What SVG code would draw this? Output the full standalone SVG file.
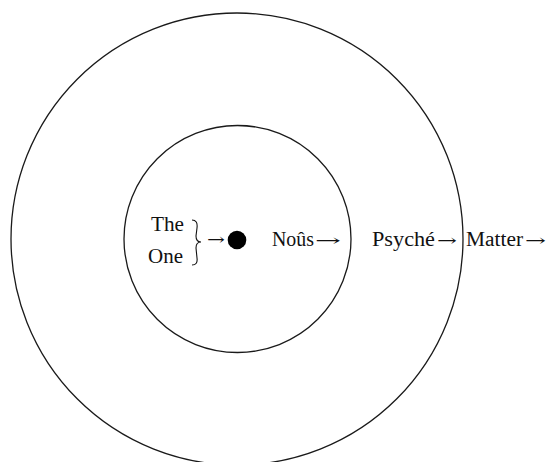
<svg xmlns="http://www.w3.org/2000/svg" width="546" height="462" viewBox="0 0 546 462">
<style>
.ring{fill:none;stroke:#1a1a1a;stroke-width:1.3}
.t{font-family:"Liberation Serif","Times New Roman",serif;font-size:20px;fill:#111}
.ar{font-family:"DejaVu Serif","Liberation Serif",serif;font-size:16px;fill:#111}
</style>
<rect width="546" height="462" fill="#fff"/>
<g id="matter">
<circle class="ring" cx="237" cy="239" r="226"/>
<text class="t" x="466" y="246" textLength="57" lengthAdjust="spacingAndGlyphs">Matter</text>
<text class="ar" x="525" y="246" textLength="21" lengthAdjust="spacingAndGlyphs">→</text>
</g>
<g id="psyche">
<text class="t" x="372" y="246" textLength="63" lengthAdjust="spacingAndGlyphs">Psyché</text>
<text class="ar" x="437" y="246" textLength="20" lengthAdjust="spacingAndGlyphs">→</text>
</g>
<g id="nous">
<circle class="ring" cx="237.5" cy="239" r="113.5"/>
<text class="t" x="272" y="246" textLength="42" lengthAdjust="spacingAndGlyphs">Noûs</text>
<text class="ar" x="315" y="246" textLength="26" lengthAdjust="spacingAndGlyphs">→</text>
</g>
<g id="the-one">
<circle cx="237" cy="240" r="9.3" fill="#000"/>
<text class="t" x="151" y="231" textLength="33" lengthAdjust="spacingAndGlyphs">The</text>
<text class="t" x="148" y="263" textLength="35" lengthAdjust="spacingAndGlyphs">One</text>
<path d="M192,220 Q198,220 197,228 L196,236 Q196,242 201,242 Q196,242 196,248 L197,258 Q198,265 192,265" fill="none" stroke="#111" stroke-width="1.1"/>
<text class="ar" x="207" y="245" textLength="18" lengthAdjust="spacingAndGlyphs">→</text>
</g>
<g id="connectors"></g>
</svg>
